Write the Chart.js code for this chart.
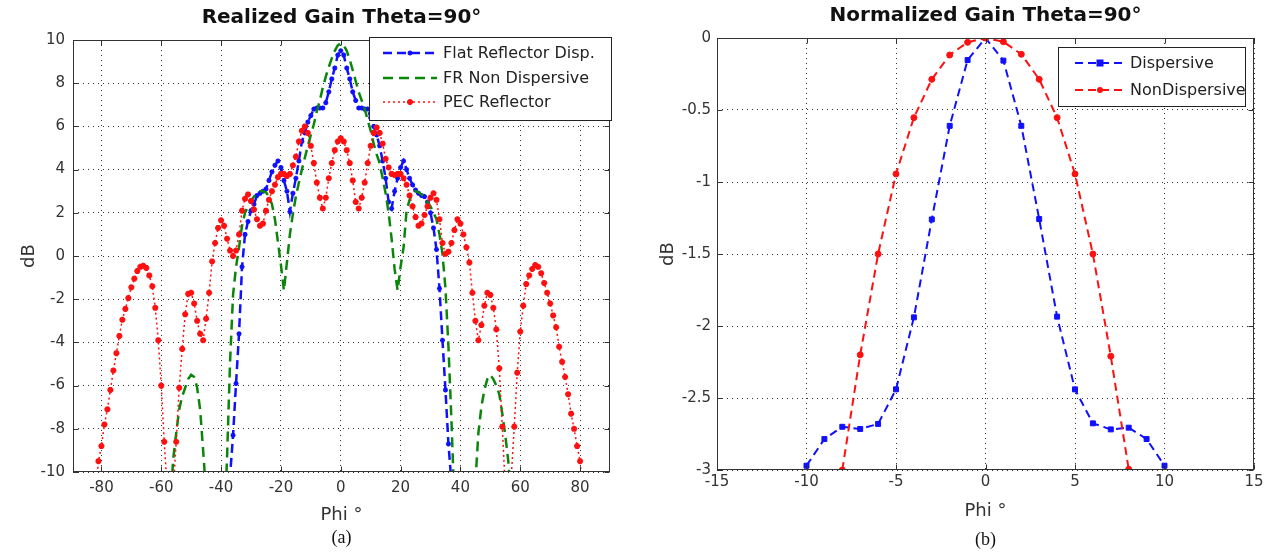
<!DOCTYPE html>
<html><head><meta charset="utf-8">
<script src="https://cdn.jsdelivr.net/npm/chart.js@4.4.1/dist/chart.umd.min.js"></script>
<style>
html,body{margin:0;padding:0;background:#fff;width:1269px;height:555px;overflow:hidden;}
#ca{position:absolute;left:0;top:0;}
#cb{position:absolute;left:640px;top:0;}
</style></head><body>
<canvas id="ca" width="640" height="555"></canvas>
<canvas id="cb" width="629" height="555"></canvas>
<script>
// ---------- Chart (a): Realized Gain ----------
const titleA = 'Realized Gain Theta=90°';
const captionA = '(a)';
const xTicksA = [-80, -60, -40, -20, 0, 20, 40, 60, 80];
const yTicksA = [-10, -8, -6, -4, -2, 0, 2, 4, 6, 8, 10];

const phiFlatDisp = [-38,-37,-36,-35,-34,-33,-32,-31,-30,-29,-28,-27,-26,-25,-24,-23,-22,-21,-20,-19,-18,-17,-16,-15,-14,-13,-12,-11,-10,-9,-8,-7,-6,-5,-4,-3,-2,-1,0,1,2,3,4,5,6,7,8,9,10,11,12,13,14,15,16,17,18,19,20,21,22,23,24,25,26,27,28,29,30,31,32,33,34,35,36,37,38];
const gainFlatDisp = [-13,-10.2,-8.3,-5.9,-3.6,-0.5,1.0,1.6,2.1,2.4,2.8,2.9,3.0,3.1,3.5,3.9,4.2,4.4,4.1,3.5,3.0,2.05,2.9,3.6,4.4,5.3,5.7,6.2,6.5,6.8,6.85,6.85,6.85,7.1,7.6,8.2,8.7,9.3,9.5,9.3,8.7,8.2,7.6,7.2,6.85,6.85,6.8,6.8,6.4,6.0,5.6,5.1,4.4,3.6,2.5,2.2,3.0,3.6,4.1,4.4,4.0,3.6,3.3,3.05,2.9,2.8,2.75,2.5,2.0,1.3,0.3,-1.5,-3.9,-6.2,-8.7,-10.5,-13];

const phiNonDisp = [-58,-57,-56,-55,-54,-53,-52,-51,-50,-49,-48,-47,-46,-45,-44,-43,-42,-41,-40,-39,-38,-37,-36,-35,-34,-33,-32,-31,-30,-29,-28,-27,-26,-25,-24,-23,-22,-21,-20,-19,-18,-17,-16,-15,-14,-13,-12,-11,-10,-9,-8,-7,-6,-5,-4,-3,-2,-1,0,1,2,3,4,5,6,7,8,9,10,11,12,13,14,15,16,17,18,19,20,21,22,23,24,25,26,27,28,29,30,31,32,33,34,35,36,37,38,39,40,41,42,43,44,45,46,47,48,49,50,51,52,53,54,55,56,57,58];
const gainNonDisp = [-16,-11.5,-9.4,-8.2,-7.1,-6.5,-6.1,-5.7,-5.5,-5.6,-6.1,-7.1,-9.0,-11,-16,-22,-25,-22,-17,-13,-9.3,-4.9,-1.8,-0.5,0.4,1.4,2.0,2.3,2.55,2.75,2.9,3.0,3.0,2.95,2.75,2.4,1.7,0.65,-0.4,-1.6,-0.3,1.0,1.95,2.75,3.4,4.0,4.55,5.1,5.6,6.1,6.7,7.2,7.8,8.3,8.75,9.15,9.5,9.75,
  9.85,
  9.75,9.5,9.1,8.6,8.1,7.6,7.2,6.8,6.3,5.8,5.2,4.7,4.3,3.6,2.9,2.0,0.8,-0.6,-1.6,-0.5,0.4,2.1,2.6,2.9,3.0,2.95,2.85,2.7,2.5,2.3,2.0,1.7,1.0,0.1,-1.5,-4.2,-7.6,-11.5,-14,-19,-24,-25,-21,-16,-10.5,-8.2,-7.0,-6.2,-5.7,-5.5,-5.7,-6.0,-6.4,-7.3,-8.3,-9.5,-11.5,-16];

const phiPec = [-82,-81,-80,-79,-78,-77,-76,-75,-74,-73,-72,-71,-70,-69,-68,-67,-66,-65,-64,-63,-62,-61,-60,-59,-58,-57,-56,-55,-54,-53,-52,-51,-50,-49,-48,-47,-46,-45,-44,-43,-42,-41,-40,-39,-38,-37,-36,-35,-34,-33,-32,-31,-30,-29,-28,-27,-26,-25,-24,-23,-22,-21,-20,-19,-18,-17,-16,-15,-14,-13,-12,-11,-10,-9,-8,-7,-6,-5,-4,-3,-2,-1,0,1,2,3,4,5,6,7,8,9,10,11,12,13,14,15,16,17,18,19,20,21,22,23,24,25,26,27,28,29,30,31,32,33,34,35,36,37,38,39,40,41,42,43,44,45,46,47,48,49,50,51,52,53,54,55,56,57,58,59,60,61,62,63,64,65,66,67,68,69,70,71,72,73,74,75,76,77,78,79,80,81,82];
const gainPec = [-11,-9.5,-8.8,-7.8,-7.1,-6.2,-5.3,-4.5,-3.7,-2.95,-2.45,-1.95,-1.45,-1.05,-0.7,-0.5,-0.45,-0.55,-0.9,-1.4,-2.4,-3.9,-6.0,-8.6,-10.8,-13,-10.8,-8.6,-6.1,-4.3,-2.7,-1.75,-1.7,-2.2,-3.0,-3.6,-3.9,-2.9,-1.7,-0.25,0.6,1.3,1.65,1.4,0.8,0.25,0.0,0.25,1.0,2.1,2.65,2.85,2.55,2.15,1.7,1.4,1.5,2.1,2.6,3.0,3.3,3.65,3.8,3.8,3.7,3.8,4.2,4.6,5.3,5.8,6.0,5.7,5.1,4.3,3.4,2.7,2.2,2.7,3.6,4.3,4.9,5.3,
  5.45,
  5.3,4.9,4.3,3.5,2.5,2.2,2.7,3.4,4.3,5.1,5.7,5.95,5.7,5.2,4.5,4.1,3.8,3.75,3.8,3.8,3.6,3.3,2.8,2.3,1.8,1.4,1.5,1.9,2.3,2.7,2.9,2.6,1.7,0.6,0.1,0.2,0.6,1.2,1.7,1.5,1.0,0.4,-0.3,-1.7,-3.0,-3.9,-3.2,-2.3,-1.7,-1.8,-2.4,-3.4,-5.2,-7.9,-10.8,-13,-10.2,-7.9,-5.4,-3.5,-2.3,-1.3,-0.9,-0.6,-0.42,-0.5,-0.8,-1.25,-1.7,-2.2,-2.75,-3.3,-4.2,-4.9,-5.6,-6.4,-7.3,-8.0,-8.8,-9.5,-11];

// ---------- Chart (b): Normalized Gain ----------
const titleB = 'Normalized Gain Theta=90°';
const captionB = '(b)';
const xTicksB = [-15, -10, -5, 0, 5, 10, 15];
const yTicksB = [-3, -2.5, -2, -1.5, -1, -0.5, 0];

const phiDispersive = [-10,-9,-8,-7,-6,-5,-4,-3,-2,-1,0,1,2,3,4,5,6,7,8,9,10];
const gainDispersive = [-2.97,-2.785,-2.70,-2.715,-2.68,-2.44,-1.94,-1.26,-0.61,-0.153,0,-0.157,-0.61,-1.257,-1.935,-2.44,-2.676,-2.718,-2.706,-2.785,-2.97];
const phiNonDispersive = [-8,-7,-6,-5,-4,-3,-2,-1,0,1,2,3,4,5,6,7,8];
const gainNonDispersive = [-3.0,-2.20,-1.5,-0.944,-0.553,-0.287,-0.118,-0.03,0,-0.026,-0.113,-0.287,-0.553,-0.944,-1.5,-2.21,-2.995];

// ---------- helpers ----------
const FONT = '"DejaVu Sans", "Liberation Sans", sans-serif';
Chart.defaults.font.family = FONT;
Chart.defaults.color = '#333';

const pts = (xs, ys) => xs.map((x, i) => ({x: x, y: ys[i]}));

function drawMarker(ctx, style, x, y, r, bw, color) {
  ctx.save();
  ctx.strokeStyle = color; ctx.fillStyle = color; ctx.lineWidth = bw;
  ctx.beginPath();
  if (style === 'star') {
    ctx.moveTo(x - r, y); ctx.lineTo(x + r, y);
    ctx.moveTo(x, y - r); ctx.lineTo(x, y + r);
    const d = r * 0.7071;
    ctx.moveTo(x - d, y - d); ctx.lineTo(x + d, y + d);
    ctx.moveTo(x - d, y + d); ctx.lineTo(x + d, y - d);
    ctx.stroke();
  } else if (style === 'rect') {
    ctx.fillRect(x - r, y - r, 2 * r, 2 * r);
  } else {
    ctx.arc(x, y, r, 0, Math.PI * 2); ctx.fill();
  }
  ctx.restore();
}

const framePlugin = {
  id: 'frame',
  afterDatasetsDraw(chart) {
    const ctx = chart.ctx, a = chart.chartArea, xs = chart.scales.x, ys = chart.scales.y;
    const L = Math.round(a.left) + 0.5, R = Math.round(a.right) - 0.5;
    const T = Math.round(a.top) + 0.5, B = Math.round(a.bottom) - 0.5;
    ctx.save();
    ctx.setLineDash([]);
    ctx.strokeStyle = '#333'; ctx.lineWidth = 1;
    ctx.strokeRect(L, T, R - L, B - T);
    ctx.beginPath();
    xs.ticks.forEach(t => {
      const p = Math.round(xs.getPixelForValue(t.value)) + 0.5;
      ctx.moveTo(p, B); ctx.lineTo(p, B - 5);
      ctx.moveTo(p, T); ctx.lineTo(p, T + 5);
    });
    ys.ticks.forEach(t => {
      const p = Math.round(ys.getPixelForValue(t.value)) + 0.5;
      ctx.moveTo(L, p); ctx.lineTo(L + 5, p);
      ctx.moveTo(R, p); ctx.lineTo(R - 5, p);
    });
    ctx.stroke();
    ctx.restore();
  }
};

const boxLegend = {
  id: 'boxLegend',
  afterDraw(chart, args, o) {
    const ctx = chart.ctx;
    ctx.save();
    ctx.setLineDash([]);
    ctx.fillStyle = '#fff';
    ctx.fillRect(o.x, o.y, o.w, o.h);
    ctx.strokeStyle = '#222'; ctx.lineWidth = 1;
    ctx.strokeRect(o.x + 0.5, o.y + 0.5, o.w, o.h);
    chart.data.datasets.forEach((ds, i) => {
      const yy = o.rows[i];
      ctx.save();
      ctx.strokeStyle = ds.borderColor; ctx.lineWidth = ds.borderWidth;
      ctx.setLineDash(ds.borderDash || []);
      ctx.beginPath(); ctx.moveTo(o.x0, yy); ctx.lineTo(o.x1, yy); ctx.stroke();
      ctx.setLineDash([]);
      if (ds.pointRadius > 0) drawMarker(ctx, ds.pointStyle, (o.x0 + o.x1) / 2, yy, ds.pointRadius, ds.pointBorderWidth || 1, ds.borderColor);
      ctx.restore();
      ctx.fillStyle = '#222'; ctx.font = o.font; ctx.textBaseline = 'middle'; ctx.textAlign = 'left';
      ctx.fillText(ds.label, o.tx, yy + 1);
    });
    ctx.restore();
  }
};

const gridOpts = {color: '#333', lineWidth: 1, drawTicks: false};
const borderOpts = {display: false, dash: [1, 4]};

// ---------- Chart (a) ----------
new Chart(document.getElementById('ca'), {
  type: 'line',
  data: {
    datasets: [
      {label: 'Flat Reflector Disp.', data: pts(phiFlatDisp, gainFlatDisp), order: 3,
       borderColor: '#1010ff', backgroundColor: '#1010ff', borderWidth: 2.5, borderDash: [9, 5],
       pointStyle: 'star', pointRadius: 2.5, pointBorderWidth: 1.5, pointBorderColor: '#1010ff', pointBackgroundColor: '#1010ff'},
      {label: 'FR Non Dispersive', data: pts(phiNonDisp, gainNonDisp), order: 2,
       borderColor: '#0a860a', backgroundColor: '#0a860a', borderWidth: 2.5, borderDash: [10, 6],
       pointRadius: 0},
      {label: 'PEC Reflector', data: pts(phiPec, gainPec), order: 1,
       borderColor: '#ff1010', backgroundColor: '#ff1010', borderWidth: 1.5, borderDash: [2, 3],
       pointStyle: 'star', pointRadius: 3, pointBorderWidth: 2, pointBorderColor: '#ff1010', pointBackgroundColor: '#ff1010'}
    ]
  },
  options: {
    responsive: false, animation: false, events: [],
    layout: {padding: {left: 0, right: 30, top: 0, bottom: 0}},
    plugins: {
      legend: {display: false}, tooltip: {enabled: false},
      title: {display: true, text: titleA, fullSize: false, color: '#111',
              font: {size: 20, weight: 'bold', family: FONT}, padding: {top: 6, bottom: 10}},
      subtitle: {display: true, text: captionA, position: 'bottom', fullSize: false, color: '#111',
                 font: {size: 18, family: '"Liberation Serif", "DejaVu Serif", serif'}, padding: {top: 0, bottom: 6}},
      boxLegend: {x: 369, y: 37, w: 242, h: 83, rows: [53, 78, 102], x0: 383, x1: 437, tx: 443,
                  font: '16px ' + FONT}
    },
    scales: {
      x: {type: 'linear', min: -89.5, max: 90,
          afterBuildTicks: s => { s.ticks = xTicksA.map(v => ({value: v})); },
          afterFit: s => { s.height = 55.4; },
          ticks: {padding: 7, font: {size: 15}, color: '#333', autoSkip: false, maxRotation: 0, callback: v => String(v)},
          grid: gridOpts, border: borderOpts,
          title: {display: true, text: 'Phi °', font: {size: 18}, color: '#333', padding: {top: 0, bottom: 1}}},
      y: {type: 'linear', min: -10, max: 10,
          afterBuildTicks: s => { s.ticks = yTicksA.map(v => ({value: v})); },
          afterFit: s => { s.width = 73; },
          ticks: {padding: 8, font: {size: 15}, color: '#333', callback: v => String(v)},
          grid: gridOpts, border: borderOpts,
          title: {display: true, text: 'dB', font: {size: 18}, color: '#333', padding: {top: 19, bottom: 0}}}
    }
  },
  plugins: [framePlugin, boxLegend]
});

// ---------- Chart (b) ----------
new Chart(document.getElementById('cb'), {
  type: 'line',
  data: {
    datasets: [
      {label: 'Dispersive', data: pts(phiDispersive, gainDispersive), order: 2,
       borderColor: '#1010ff', backgroundColor: '#1010ff', borderWidth: 2, borderDash: [8, 5],
       pointStyle: 'rect', pointRadius: 3.5, pointBorderWidth: 1, pointBorderColor: '#1010ff', pointBackgroundColor: '#1010ff'},
      {label: 'NonDispersive', data: pts(phiNonDispersive, gainNonDispersive), order: 1,
       borderColor: '#ff1010', backgroundColor: '#ff1010', borderWidth: 2, borderDash: [8, 5],
       pointStyle: 'circle', pointRadius: 3, pointBorderWidth: 1, pointBorderColor: '#ff1010', pointBackgroundColor: '#ff1010'}
    ]
  },
  options: {
    responsive: false, animation: false, events: [],
    layout: {padding: {left: 0, right: 15, top: 0, bottom: 0}},
    plugins: {
      legend: {display: false}, tooltip: {enabled: false},
      title: {display: true, text: titleB, fullSize: false, color: '#111',
              font: {size: 20, weight: 'bold', family: FONT}, padding: {top: 4, bottom: 10}},
      subtitle: {display: true, text: captionB, position: 'bottom', fullSize: false, color: '#111',
                 font: {size: 18, family: '"Liberation Serif", "DejaVu Serif", serif'}, padding: {top: 0, bottom: 4}},
      boxLegend: {x: 418, y: 47, w: 187, h: 59, rows: [63, 90], x0: 435, x1: 485, tx: 490,
                  font: '16px ' + FONT}
    },
    scales: {
      x: {type: 'linear', min: -15, max: 15,
          afterBuildTicks: s => { s.ticks = xTicksB.map(v => ({value: v})); },
          afterFit: s => { s.height = 59.4; },
          ticks: {padding: 3, font: {size: 15}, color: '#333', autoSkip: false, maxRotation: 0, callback: v => String(v)},
          grid: gridOpts, border: borderOpts,
          title: {display: true, text: 'Phi °', font: {size: 18}, color: '#333', padding: {top: 0, bottom: 7.6}}},
      y: {type: 'linear', min: -3, max: 0,
          afterBuildTicks: s => { s.ticks = yTicksB.map(v => ({value: v})); },
          afterFit: s => { s.width = 77; },
          ticks: {padding: 6, font: {size: 15}, color: '#333', callback: v => String(v)},
          grid: gridOpts, border: borderOpts,
          title: {display: true, text: 'dB', font: {size: 18}, color: '#333', padding: {top: 18, bottom: 0}}}
    }
  },
  plugins: [framePlugin, boxLegend]
});
</script>
</body></html>
